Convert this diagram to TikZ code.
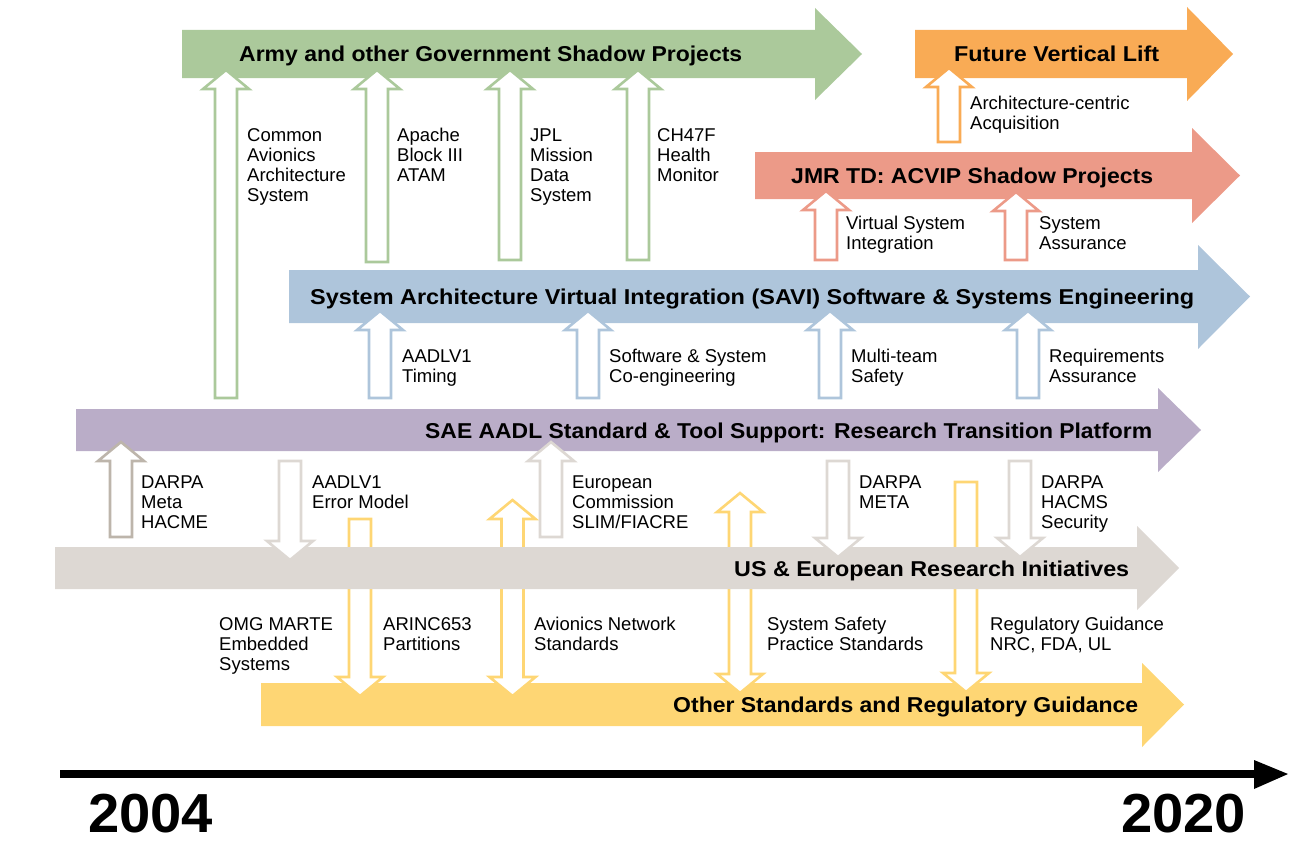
\documentclass[tikz,border=0pt]{standalone}
\usepackage{fontspec}
\setmainfont{Liberation Sans}
\usepackage{graphicx}
\definecolor{cgreen}{HTML}{ABC99B}
\definecolor{corange}{HTML}{F9AB55}
\definecolor{csalmon}{HTML}{EC9A88}
\definecolor{cblue}{HTML}{AEC5DB}
\definecolor{cpurple}{HTML}{BAADC8}
\definecolor{cgray}{HTML}{DDD8D3}
\definecolor{cdgray}{HTML}{BDB5AB}
\definecolor{cyellow}{HTML}{FED674}
\newcommand\fitto[2]{\resizebox{#1}{\height}{#2}}
% band: color, x0, xhead, xtip, ytop, ybot, headtop, headbot
\newcommand\band[8]{\fill[#1] (#2,#5) -- (#3,#5) -- (#3,#7) -- (#4,{(#5+#6)/2}) -- (#3,#8) -- (#3,#6) -- (#2,#6) -- cycle;}
% small arrows: color, cx, tip, end
\newcommand\uparr[4]{\draw[smallarr,draw=#1] ({#2-11},#4) -- ({#2-11},{#3+19}) -- ({#2-23},{#3+19}) -- (#2,#3) -- ({#2+23},{#3+19}) -- ({#2+11},{#3+19}) -- ({#2+11},#4) -- cycle;}
\newcommand\dnarr[4]{\draw[smallarr,draw=#1] ({#2-11},#3) -- ({#2-11},{#4-19}) -- ({#2-23},{#4-19}) -- (#2,#4) -- ({#2+23},{#4-19}) -- ({#2+11},{#4-19}) -- ({#2+11},#3) -- cycle;}
\newcommand\dblarr[4]{\draw[smallarr,draw=#1] ({#2-11},{#3+19}) -- ({#2-23},{#3+19}) -- (#2,#3) -- ({#2+23},{#3+19}) -- ({#2+11},{#3+19}) -- ({#2+11},{#4-19}) -- ({#2+23},{#4-19}) -- (#2,#4) -- ({#2-23},{#4-19}) -- ({#2-11},{#4-19}) -- cycle;}
\begin{document}
\begin{tikzpicture}[x=1pt,y=-1pt,
  smallarr/.style={fill=white,line width=2.6pt,line join=miter},
  title/.style={inner sep=0pt,anchor=base west,font=\fontsize{21.5}{24}\selectfont\bfseries},
  lab/.style={inner sep=0pt,anchor=base west,align=left,font=\fontsize{18.5}{20}\selectfont},
  year/.style={inner sep=0pt,anchor=base west,font=\fontsize{55}{57}\selectfont\bfseries}]
\useasboundingbox (0,0) rectangle (1316,843);
% yellow band and its arrows (behind gray band)
\band{cyellow}{261}{1142}{1184}{683}{726}{663}{747}
\dnarr{cyellow}{360}{519}{696}
\dblarr{cyellow}{512.5}{500}{696}
\dblarr{cyellow}{740}{493}{693}
\dnarr{cyellow}{966}{482}{692}
% other bands
\band{cgreen}{182}{815}{862}{30}{78}{8}{100}
\band{corange}{915}{1187}{1233}{30}{78}{7}{101}
\band{csalmon}{755}{1192}{1240}{152}{199}{128}{223}
\band{cblue}{289}{1198}{1250}{270}{323}{245}{349}
\band{cpurple}{76}{1158}{1201}{409}{451}{388}{472}
\band{cgray}{55}{1137}{1179}{547}{589}{526}{610}
% green arrows
\uparr{cgreen}{226}{70}{398}
\uparr{cgreen}{377}{70}{262}
\uparr{cgreen}{510}{70}{260}
\uparr{cgreen}{638}{70}{260}
% orange
\uparr{corange}{949}{68}{142}
% salmon
\uparr{csalmon}{826}{191}{260}
\uparr{csalmon}{1016}{192}{260}
% blue
\uparr{cblue}{380}{311}{398}
\uparr{cblue}{588}{311}{398}
\uparr{cblue}{830}{311}{398}
\uparr{cblue}{1028}{311}{398}
% gray
\uparr{cdgray}{121}{442}{537}
\dnarr{cgray}{290}{461}{560}
\uparr{cgray}{551}{442}{537}
\dnarr{cgray}{838}{461}{557}
\dnarr{cgray}{1020}{461}{557}
% titles
\node[title] (tgreen) at (239,62) {\fitto{503pt}{Army and other Government Shadow Projects}};
\node[title] (torange) at (954,62) {\fitto{205pt}{Future Vertical Lift}};
\node[title] (tsalmon) at (791,183) {\fitto{362pt}{JMR TD: ACVIP Shadow Projects}};
\node[title] (tblue) at (310,304) {\fitto{884pt}{System Architecture Virtual Integration (SAVI) Software \& Systems Engineering}};
\node[title] (tpurple) at (425,438) {\fitto{727pt}{SAE AADL Standard \& Tool Support: Research Transition Platform}};
\node[title] (tgray) at (734,576) {\fitto{395pt}{US \& European Research Initiatives}};
\node[title] (tyellow) at (673,712) {\fitto{465pt}{Other Standards and Regulatory Guidance}};
% labels (anchor = baseline of last line)
\node[lab] (l1) at (247,201) {Common\\Avionics\\Architecture\\System};
\node[lab] (l2) at (397,181) {Apache\\Block III\\ATAM};
\node[lab] (l3) at (530,201) {JPL\\Mission\\Data\\System};
\node[lab] (l4) at (657,181) {CH47F\\Health\\Monitor};
\node[lab] (l5) at (970,129) {Architecture-centric\\Acquisition};
\node[lab] (l6) at (846,249) {Virtual System\\Integration};
\node[lab] (l7) at (1039,249) {System\\Assurance};
\node[lab] (l8) at (402,382) {AADLV1\\Timing};
\node[lab] (l9) at (609,382) {Software \& System\\Co-engineering};
\node[lab] (l10) at (851,382) {Multi-team\\Safety};
\node[lab] (l11) at (1049,382) {Requirements\\Assurance};
\node[lab] (l12) at (141,528) {DARPA\\Meta\\HACME};
\node[lab] (l13) at (312,508) {AADLV1\\Error Model};
\node[lab] (l14) at (572,528) {European\\Commission\\SLIM/FIACRE};
\node[lab] (l15) at (859,508) {DARPA\\META};
\node[lab] (l16) at (1041,528) {DARPA\\HACMS\\Security};
\node[lab] (l17) at (219,670) {OMG MARTE\\Embedded\\Systems};
\node[lab] (l18) at (383,650) {ARINC653\\Partitions};
\node[lab] (l19) at (534,650) {Avionics Network\\Standards};
\node[lab] (l20) at (767,650) {System Safety\\Practice Standards};
\node[lab] (l21) at (990,650) {Regulatory Guidance\\NRC, FDA, UL};
% timeline
\fill[black] (60,770) rectangle (1262,778);
\fill[black] (1254,760) -- (1288,774) -- (1254,789) -- cycle;
\node[year] (y1) at (88,832) {\fitto{125pt}{2004}};
\node[year] (y2) at (1121,832) {\fitto{125pt}{2020}};
\end{tikzpicture}
\end{document}
